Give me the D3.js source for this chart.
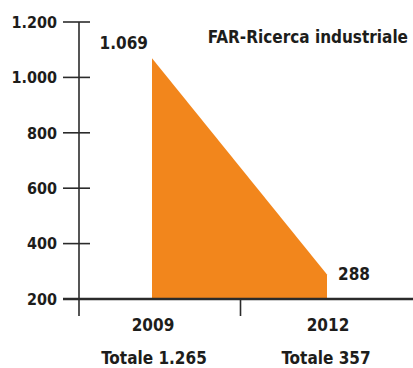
<!DOCTYPE html>
<html>
<head>
<meta charset="utf-8">
<script src="https://cdn.jsdelivr.net/npm/d3@7"></script>
<style>
  body { margin: 0; background: #fff; }
  text { font-family: "Liberation Sans Narrow", "DejaVu Sans Condensed", sans-serif; font-weight: bold; fill: #1d1d1b; }
</style>
</head>
<body>
<svg id="chart" width="413" height="368"></svg>
<script>
// values
var years = ["2009", "2012"];
var values = [1069, 288];
var totals = ["Totale 1.265", "Totale 357"];
var valueLabels = ["1.069", "288"];
var yTicks = [200, 400, 600, 800, 1000, 1200];
var title = "FAR-Ricerca industriale";

var svg = d3.select("#chart");
var fmt = function(d) { return d3.format(",")(d).replace(",", "."); };

var y = d3.scaleLinear().domain([200, 1200]).range([299, 22]);
var x = d3.scalePoint().domain(years).range([152, 327]);

// orange area
var area = d3.area()
    .x(function(d) { return x(d.year); })
    .y0(y(200))
    .y1(function(d) { return y(d.value); });

var data = years.map(function(yr, i) { return {year: yr, value: values[i]}; });

svg.append("path")
    .datum(data)
    .attr("d", area)
    .attr("fill", "#f2861c");

// y axis
var yAxis = svg.append("g").attr("transform", "translate(79,0)");
yAxis.append("line")
    .attr("x1", 0).attr("x2", 0)
    .attr("y1", y(1200)).attr("y2", 316)
    .attr("stroke", "#2b2b2b").attr("stroke-width", 1.6);
yAxis.selectAll("line.tick")
    .data(yTicks.filter(function(d) { return d !== 200; }))
    .enter().append("line")
    .attr("class", "tick")
    .attr("x1", -16).attr("x2", 11)
    .attr("y1", function(d) { return y(d); })
    .attr("y2", function(d) { return y(d); })
    .attr("stroke", "#2b2b2b").attr("stroke-width", 1.6);
yAxis.selectAll("text")
    .data(yTicks)
    .enter().append("text")
    .attr("x", -22)
    .attr("y", function(d) { return y(d); })
    .attr("dy", "0.36em")
    .attr("text-anchor", "end")
    .attr("font-size", 16)
    .text(fmt);

// x baseline
svg.append("line")
    .attr("x1", 63).attr("x2", 413)
    .attr("y1", y(200)).attr("y2", y(200))
    .attr("stroke", "#2b2b2b").attr("stroke-width", 2.6);

// middle tick between years
var mid = (x(years[0]) + x(years[1])) / 2 + 1;
svg.append("line")
    .attr("x1", mid).attr("x2", mid)
    .attr("y1", y(200)).attr("y2", 316)
    .attr("stroke", "#2b2b2b").attr("stroke-width", 1.6);

// year labels
svg.selectAll("text.year")
    .data(years)
    .enter().append("text")
    .attr("class", "year")
    .attr("x", function(d) { return x(d) + 1; })
    .attr("y", 331)
    .attr("text-anchor", "middle")
    .attr("font-size", 17)
    .text(function(d) { return d; });

// totals
svg.selectAll("text.tot")
    .data(totals)
    .enter().append("text")
    .attr("class", "tot")
    .attr("x", function(d, i) { return x(years[i]) + (i === 0 ? 2 : -1); })
    .attr("y", 364)
    .attr("text-anchor", "middle")
    .attr("font-size", 17)
    .text(function(d) { return d; });

// value labels
svg.append("text")
    .attr("x", x(years[0]) - 4)
    .attr("y", y(values[0]) - 9)
    .attr("text-anchor", "end")
    .attr("font-size", 17)
    .text(valueLabels[0]);
svg.append("text")
    .attr("x", x(years[1]) + 11)
    .attr("y", y(values[1]) + 5)
    .attr("text-anchor", "start")
    .attr("font-size", 17)
    .text(valueLabels[1]);

// title
svg.append("text")
    .attr("x", 408)
    .attr("y", 43)
    .attr("text-anchor", "end")
    .attr("font-size", 17)
    .text(title);
</script>
</body>
</html>
